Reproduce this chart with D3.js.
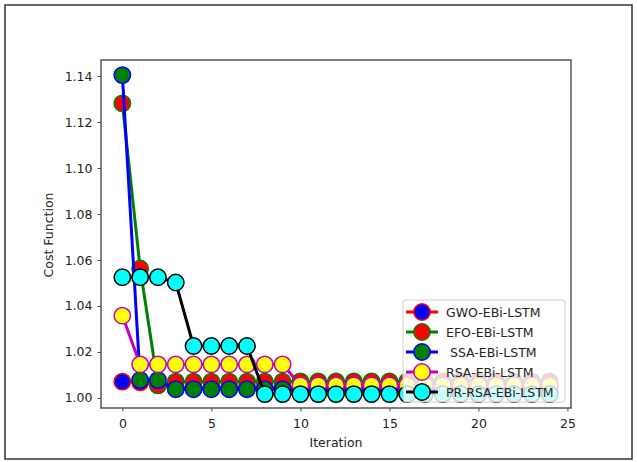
<!DOCTYPE html>
<html>
<head>
<meta charset="utf-8">
<script src="https://cdnjs.cloudflare.com/ajax/libs/d3/7.8.5/d3.min.js"></script>
<style>
  body { margin: 0; background: #fff; }
  text { font-family: "DejaVu Sans", sans-serif; fill: #222; }
</style>
</head>
<body>
<div id="cost_chart"></div>
<script>
// iterations 0..24
var iterations = d3.range(0, 25);

var gwo = [1.0071, 1.0068, 1.0056, 1.0045, 1.0045, 1.0045, 1.0045, 1.0045, 1.0045, 1.0045,
           1.0045, 1.0045, 1.0045, 1.0045, 1.0045, 1.0045, 1.0045, 1.0045, 1.0045, 1.0045,
           1.0045, 1.0045, 1.0045, 1.0045, 1.0045];
var efo = [1.1281, 1.0563, 1.0055, 1.0071, 1.0071, 1.0071, 1.0071, 1.0071, 1.0071, 1.0071,
           1.0072, 1.0072, 1.0072, 1.0072, 1.0072, 1.0072, 1.0072, 1.0072, 1.0072, 1.0072,
           1.0072, 1.0072, 1.0072, 1.0072, 1.0072];
var ssa = [1.1404, 1.0078, 1.0078, 1.0038, 1.0038, 1.0038, 1.0038, 1.0038, 1.0038, 1.0038,
           1.0030, 1.0030, 1.0030, 1.0030, 1.0030, 1.0030, 1.0030, 1.0030, 1.0030, 1.0030,
           1.0030, 1.0030, 1.0030, 1.0030, 1.0030];
var rsa = [1.0358, 1.0146, 1.0146, 1.0146, 1.0146, 1.0146, 1.0146, 1.0146, 1.0146, 1.0146,
           1.0055, 1.0055, 1.0055, 1.0055, 1.0055, 1.0055, 1.0055, 1.0055, 1.0055, 1.0055,
           1.0055, 1.0055, 1.0055, 1.0055, 1.0055];
var prRsa = [1.0525, 1.0525, 1.0525, 1.0502, 1.0226, 1.0226, 1.0226, 1.0226, 1.0017, 1.0017,
             1.0017, 1.0017, 1.0017, 1.0017, 1.0017, 1.0017, 1.0017, 1.0017, 1.0017, 1.0017,
             1.0017, 1.0017, 1.0017, 1.0017, 1.0017];

var seriesNames = ["GWO-EBi-LSTM", "EFO-EBi-LSTM", " SSA-EBi-LSTM", "RSA-EBi-LSTM", "PR-RSA-EBi-LSTM"];
var xTicks = [0, 5, 10, 15, 20, 25];
var yTicks = [1.00, 1.02, 1.04, 1.06, 1.08, 1.10, 1.12, 1.14];

var styles = [
  {line: "#ff0000", face: "#0000ff", edge: "#ff0000"},
  {line: "#008000", face: "#ff0000", edge: "#008000"},
  {line: "#0000ff", face: "#008000", edge: "#0000ff"},
  {line: "#bf00bf", face: "#ffff00", edge: "#bf00bf"},
  {line: "#000000", face: "#00ffff", edge: "#000000"}
];

var series = [gwo, efo, ssa, rsa, prRsa].map(function(vals, k) {
  return {name: seriesNames[k], style: styles[k],
          points: vals.map(function(v, i) { return {x: iterations[i], y: v}; })};
});

var W = 637, H = 462;
var axLeft = 101, axRight = 571, axTop = 60, axBottom = 408;
var markerR = 8.2;

var svg = d3.select("#cost_chart").append("svg")
  .attr("width", W)
  .attr("height", H);

// outer frame of the picture
svg.append("rect")
  .attr("x", 5).attr("y", 5)
  .attr("width", 627).attr("height", 454)
  .style("fill", "none")
  .style("stroke", "#333")
  .style("stroke-width", 1.5);

var x = d3.scaleLinear().domain([-1.2, 25.2]).range([axLeft, axRight]);
var y = d3.scaleLinear().domain([0.99565, 1.14696]).range([axBottom, axTop]);

// x axis
var xAxis = svg.append("g")
  .attr("transform", "translate(0," + axBottom + ")")
  .call(d3.axisBottom(x).tickValues(xTicks).tickSize(3.5).tickPadding(8).tickFormat(d3.format("d")));

// y axis
var yAxis = svg.append("g")
  .attr("transform", "translate(" + axLeft + ",0)")
  .call(d3.axisLeft(y).tickValues(yTicks).tickSize(3.5).tickPadding(5).tickFormat(d3.format(".2f")));

[xAxis, yAxis].forEach(function(a) {
  a.select(".domain").remove();
  a.selectAll("line").style("stroke", "#333").style("stroke-width", 0.9);
  a.selectAll("text").style("font-size", "12.5px").style("fill", "#222")
    .style("font-family", "'DejaVu Sans', sans-serif");
});

var line = d3.line()
  .x(function(d) { return x(d.x); })
  .y(function(d) { return y(d.y); });

var plot = svg.append("g");

series.forEach(function(s) {
  plot.append("path")
    .datum(s.points)
    .attr("d", line)
    .style("fill", "none")
    .style("stroke", s.style.line)
    .style("stroke-width", 3)
    .style("stroke-linejoin", "round");

  plot.selectAll(null)
    .data(s.points)
    .enter().append("circle")
      .attr("cx", function(d) { return x(d.x); })
      .attr("cy", function(d) { return y(d.y); })
      .attr("r", markerR)
      .style("fill", s.style.face)
      .style("stroke", s.style.edge)
      .style("stroke-width", 1.5);
});

// axes box
svg.append("rect")
  .attr("x", axLeft).attr("y", axTop)
  .attr("width", axRight - axLeft).attr("height", axBottom - axTop)
  .style("fill", "none")
  .style("stroke", "#555")
  .style("stroke-width", 1.5);

// axis labels
svg.append("text")
  .attr("x", (axLeft + axRight) / 2)
  .attr("y", 447)
  .style("text-anchor", "middle")
  .style("font-size", "12.5px")
  .text("Iteration");

svg.append("text")
  .attr("transform", "translate(53," + 235 + ") rotate(-90)")
  .style("text-anchor", "middle")
  .style("font-size", "12.5px")
  .text("Cost Function");

// legend
var legend = svg.append("g");
legend.append("rect")
  .attr("x", 403).attr("y", 300)
  .attr("width", 162).attr("height", 102)
  .attr("rx", 3)
  .style("fill", "#fff")
  .style("fill-opacity", 0.8)
  .style("stroke", "#ccc")
  .style("stroke-width", 1);

series.forEach(function(s, k) {
  var ly = 312 + k * 20;
  legend.append("line")
    .attr("x1", 406).attr("x2", 438)
    .attr("y1", ly).attr("y2", ly)
    .style("stroke", s.style.line)
    .style("stroke-width", 3);
  legend.append("circle")
    .attr("cx", 422).attr("cy", ly)
    .attr("r", markerR)
    .style("fill", s.style.face)
    .style("stroke", s.style.edge)
    .style("stroke-width", 1.5);
  legend.append("text")
    .attr("x", 446).attr("y", ly + 4.5)
    .style("font-size", "12.5px")
    .style("white-space", "pre")
    .text(s.name);
});
</script>
</body>
</html>
